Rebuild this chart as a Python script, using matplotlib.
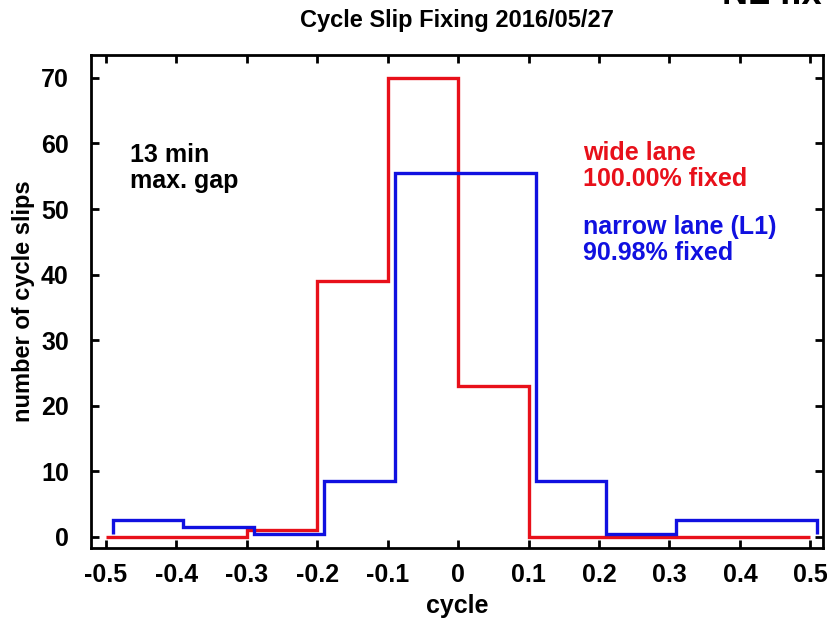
import matplotlib.pyplot as plt
import numpy as np

plt.rcParams['font.family'] = ['Liberation Sans', 'DejaVu Sans']
plt.rcParams['font.weight'] = 'bold'

# Гистограммы (ступеньки), ширина бина 0.1
wl_edges = [-0.5, -0.4, -0.3, -0.2, -0.1, 0.0, 0.1, 0.2, 0.3, 0.4, 0.5]
wl_counts = [0, 0, 1, 39, 70, 23, 0, 0, 0, 0]

nl_edges = [-0.49, -0.39, -0.29, -0.19, -0.09, 0.01, 0.11, 0.21, 0.31, 0.41, 0.51]
nl_counts = [2, 1, 0, 8, 55, 55, 8, 0, 2, 2]
nl_offset = 0.5  # сдвиг синей линии для видимости

xticks = [-0.5, -0.4, -0.3, -0.2, -0.1, 0, 0.1, 0.2, 0.3, 0.4, 0.5]
xtick_labels = ['-0.5', '-0.4', '-0.3', '-0.2', '-0.1', '0', '0.1', '0.2', '0.3', '0.4', '0.5']
yticks = [0, 10, 20, 30, 40, 50, 60, 70]

fig = plt.figure(figsize=(8.28, 6.22), dpi=100)
ax = fig.add_axes([0.1099, 0.1190, 0.8841, 0.7926])

ax.stairs(wl_counts, wl_edges, color='#e8101a', linewidth=2.4, baseline=None)
nl = np.array(nl_counts) + nl_offset
ax.stairs(nl, nl_edges, color='#1010e0', linewidth=2.4, baseline=nl_offset)

ax.set_xlim(-0.521, 0.518)
ax.set_ylim(-1.7, 73.5)
ax.set_xticks(xticks)
ax.set_xticklabels(xtick_labels)
ax.set_yticks(yticks)
ax.tick_params(direction='in', top=True, right=True, length=6, width=2,
               labelsize=18)
ax.tick_params(axis='x', pad=11)
ax.tick_params(axis='y', pad=16)
for s in ax.spines.values():
    s.set_linewidth(2)

ax.set_xlabel('cycle', fontsize=18, fontweight='bold', labelpad=5)
ax.set_ylabel('number of cycle slips', fontsize=17, fontweight='bold', labelpad=4)
ax.set_title('Cycle Slip Fixing 2016/05/27', fontsize=17, fontweight='bold', pad=20)

ax.text(0.053, 0.77, '13 min\nmax. gap', transform=ax.transAxes, fontsize=18,
        fontweight='bold', va='center', ha='left', linespacing=1.1)
ax.text(0.672, 0.775, 'wide lane\n100.00% fixed', transform=ax.transAxes, fontsize=18,
        fontweight='bold', va='center', ha='left', color='#e8101a', linespacing=1.1)
ax.text(0.672, 0.625, 'narrow lane (L1)\n90.98% fixed', transform=ax.transAxes, fontsize=18,
        fontweight='bold', va='center', ha='left', color='#1010e0', linespacing=1.1)

# обрезанный заголовок соседнего графика
fig.text(0.872, 1 - 4 / 622, 'NL fix rate', fontsize=26, fontweight='bold',
         va='baseline', ha='left')

fig.savefig('out.png', dpi=100)
